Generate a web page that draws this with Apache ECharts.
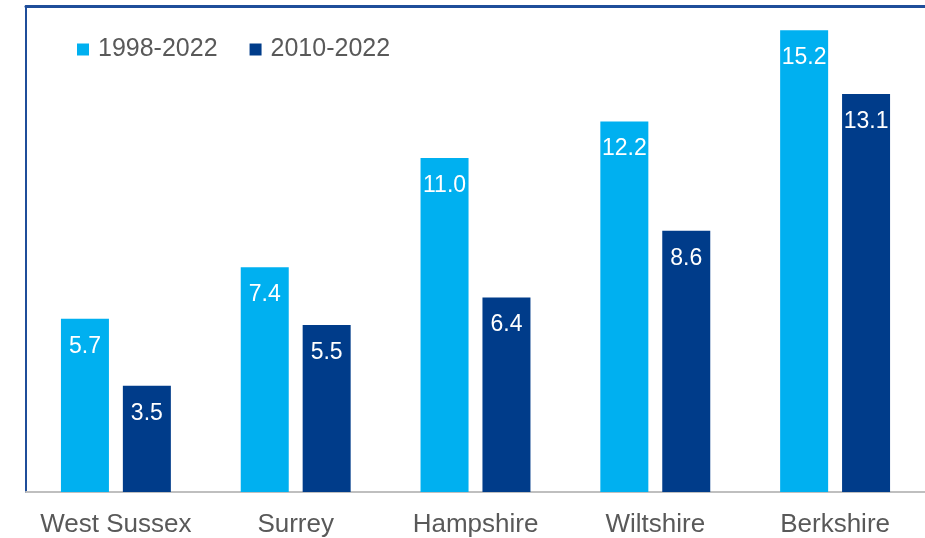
<!DOCTYPE html>
<html>
<head>
<meta charset="utf-8">
<script src="https://cdn.jsdelivr.net/npm/echarts@6/dist/echarts.min.js"></script>
<style>
  html, body { margin: 0; padding: 0; background: #fff; }
  #chart { width: 925px; height: 538px; }
</style>
</head>
<body>
<div id="chart"></div>
<script>
// Counties and average annual growth over two periods
const counties = ['West Sussex', 'Surrey', 'Hampshire', 'Wiltshire', 'Berkshire'];
const since1998 = [5.7, 7.4, 11.0, 12.2, 15.2];
const since2010 = [3.5, 5.5, 6.4, 8.6, 13.1];
const seriesNames = ['1998-2022', '2010-2022'];

const FONT = '"Liberation Sans", Arial, sans-serif';
const FRAME = '#1F4E9A';

const chart = echarts.init(document.getElementById('chart'), null, { renderer: 'canvas' });

const valueLabel = {
  show: true,
  position: 'insideTop',
  distance: 16,
  color: '#ffffff',
  fontFamily: FONT,
  fontSize: 23,
  formatter: p => p.value.toFixed(1)
};

chart.setOption({
  animation: false,
  backgroundColor: '#ffffff',
  grid: { left: 26, right: -1, top: 6, bottom: 46 },
  legend: {
    data: seriesNames,
    left: 72, top: 32,
    icon: 'rect',
    itemWidth: 12, itemHeight: 12,
    itemGap: 32,
    textStyle: { color: '#595959', fontFamily: FONT, fontSize: 25, padding: [0, 0, 0, 4] }
  },
  xAxis: [
    {
      type: 'category',
      data: counties,
      axisLine: { show: true, lineStyle: { color: '#BFBFBF', width: 2 } },
      axisTick: { show: false },
      axisLabel: { color: '#595959', fontFamily: FONT, fontSize: 26, margin: 20, interval: 0 }
    },
    {
      // top edge of the frame
      type: 'category',
      position: 'top',
      data: counties,
      axisLine: { show: true, lineStyle: { color: FRAME, width: 3 } },
      axisTick: { show: false },
      axisLabel: { show: false }
    }
  ],
  yAxis: {
    type: 'value',
    min: 0, max: 16,
    axisLine: { show: true, lineStyle: { color: FRAME, width: 2 } },
    axisTick: { show: false },
    axisLabel: { show: false },
    splitLine: { show: false }
  },
  series: [
    {
      name: seriesNames[0],
      type: 'bar',
      data: since1998,
      itemStyle: { color: '#00B0F0' },
      barWidth: 48,
      barGap: '29%',
      label: valueLabel
    },
    {
      name: seriesNames[1],
      type: 'bar',
      data: since2010,
      itemStyle: { color: '#003C8A' },
      barWidth: 48,
      label: valueLabel
    }
  ]
});
</script>
</body>
</html>
